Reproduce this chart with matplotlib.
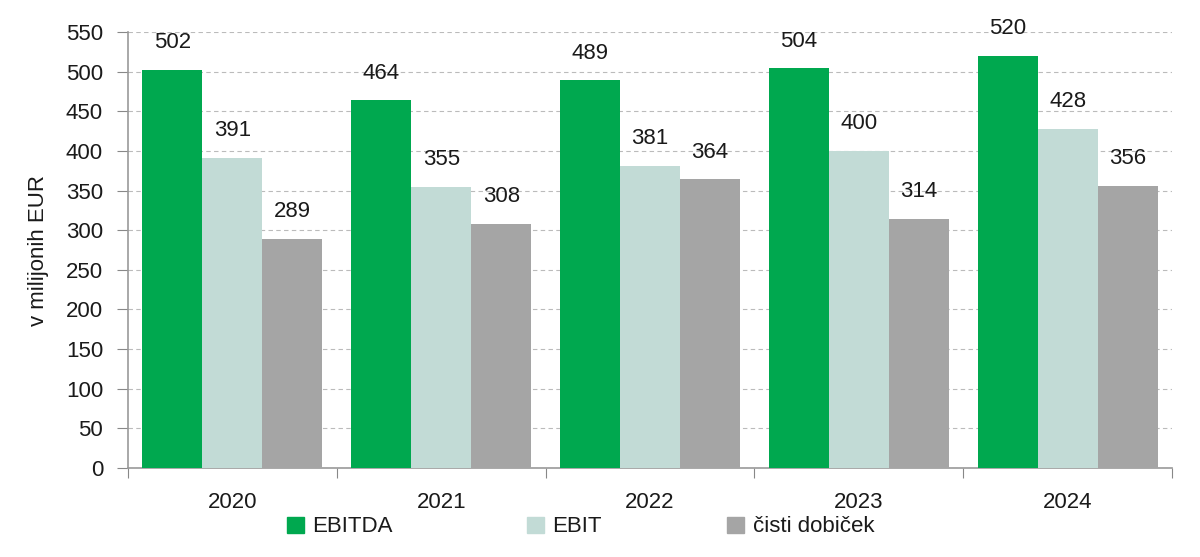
import matplotlib
matplotlib.use("Agg")
import matplotlib.pyplot as plt
from matplotlib.patches import Patch
import numpy as np

years = ["2020", "2021", "2022", "2023", "2024"]
series_names = ["EBITDA", "EBIT", "čisti dobiček"]
ebitda = [502, 464, 489, 504, 520]
ebit = [391, 355, 381, 400, 428]
cisti = [289, 308, 364, 314, 356]
yticks = [0, 50, 100, 150, 200, 250, 300, 350, 400, 450, 500, 550]
colors = ["#00A84F", "#C2DBD6", "#A5A5A5"]

plt.rcParams['font.family'] = ['Liberation Sans Narrow', 'Liberation Sans', 'DejaVu Sans']

fig = plt.figure(figsize=(12, 5.57), dpi=100)
W, H = 1200, 557
ax = fig.add_axes([128 / W, 1 - 468 / H, (1172 - 128) / W, (468 - 32) / H])

x = np.arange(len(years))
bw = 60 / 208.8
data = [ebitda, ebit, cisti]
for i, (vals, name, c) in enumerate(zip(data, series_names, colors)):
    pos = x + (i - 1) * bw
    ax.bar(pos, vals, width=bw, color=c, label=name, zorder=3)
    for p, v in zip(pos, vals):
        ax.text(p, v + 21, str(v), ha='center', va='bottom', fontsize=16, color='#1a1a1a')

ax.set_xlim(-0.5, len(years) - 0.5)
ax.set_ylim(0, 550)
ax.set_yticks(yticks)
ax.set_yticklabels([str(t) for t in yticks], fontsize=16, color='#1a1a1a')
ax.yaxis.grid(True, linestyle=(0, (4, 3)), color='#BBBBBB', linewidth=0.8, zorder=0)
ax.set_axisbelow(True)

ax.set_xticks(np.arange(-0.5, len(years), 1.0))
ax.set_xticklabels([])
ax.set_xticks(x, minor=True)
ax.set_xticklabels(years, minor=True, fontsize=16, color='#1a1a1a')
ax.tick_params(axis='x', which='minor', length=0, pad=17)
ax.tick_params(axis='x', which='major', length=7, color='#888888', direction='out')
ax.tick_params(axis='y', length=8, color='#888888', direction='out', pad=10)

for s in ['top', 'right']:
    ax.spines[s].set_visible(False)
for s in ['left', 'bottom']:
    ax.spines[s].set_color('#999999')
    ax.spines[s].set_linewidth(1.2)

ax.set_ylabel("v milijonih EUR", fontsize=16, color='#1a1a1a', labelpad=12)

legend_x = [287, 527, 727]
for name, c, lx in zip(series_names, colors, legend_x):
    leg = fig.legend(handles=[Patch(color=c, label=name)], loc='center left',
                     bbox_to_anchor=(lx / W, 1 - 527 / H), frameon=False,
                     fontsize=16, handlelength=0.75, handleheight=0.75, handletextpad=0.4,
                     borderpad=0, borderaxespad=0)
    for t in leg.get_texts():
        t.set_color('#1a1a1a')

fig.savefig("out.png", dpi=100)
